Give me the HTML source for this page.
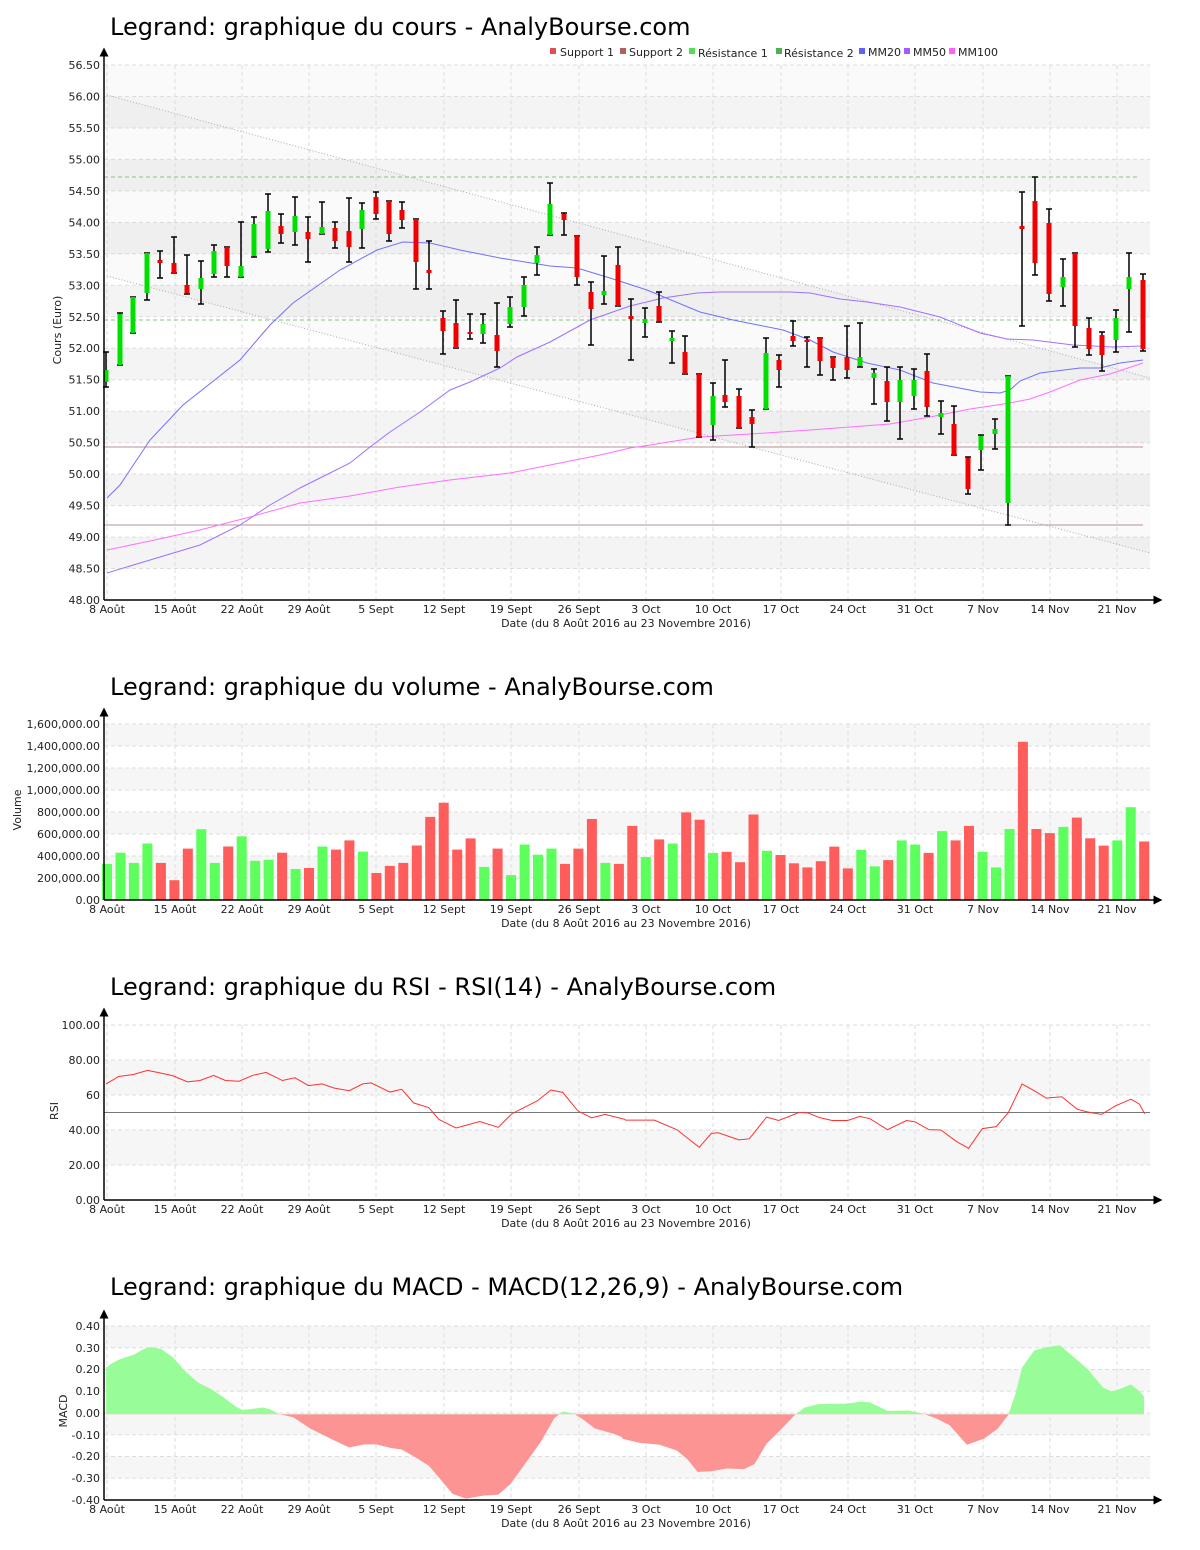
<!DOCTYPE html>
<html><head><meta charset="utf-8"><style>
html,body{margin:0;padding:0;background:#fff;}
svg{display:block;font-family:"DejaVu Sans","Liberation Sans",sans-serif;}
.t{font-size:24px;fill:#000;}
.tk{font-size:11px;fill:#222;}
.g{stroke:#ddd;stroke-dasharray:4,3;stroke-width:1;fill:none;}
.ax{stroke:#000;stroke-width:1.5;fill:none;}
</style></head><body>
<svg width="1200" height="1550" viewBox="0 0 1200 1550" xmlns="http://www.w3.org/2000/svg">
<defs>
<marker id="ar" markerWidth="6" markerHeight="6" refX="3" refY="3" orient="auto"><path d="M0,0 L6,3 L0,6 z" fill="#000"/></marker>
</defs>

<text class="t" x="110" y="35">Legrand: graphique du cours - AnalyBourse.com</text>
<g font-size="11" fill="#222">
<rect x="550" y="48" width="6" height="6" fill="#e05050"/><text x="560" y="56">Support 1</text>
<rect x="620" y="48" width="6" height="6" fill="#b06060"/><text x="629" y="56">Support 2</text>
<rect x="689" y="48" width="6" height="6" fill="#50e050"/><text x="698" y="57">Résistance 1</text>
<rect x="776" y="48" width="6" height="6" fill="#50b050"/><text x="784" y="57">Résistance 2</text>
<rect x="859" y="48" width="6" height="6" fill="#6060ff"/><text x="868" y="56">MM20</text>
<rect x="904" y="48" width="6" height="6" fill="#a060ff"/><text x="913" y="56">MM50</text>
<rect x="949" y="48" width="6" height="6" fill="#ff60ff"/><text x="958" y="56">MM100</text>
</g>
<g fill="#f4f4f4">
<rect x="104" y="537.1" width="1046" height="31.4"/>
<rect x="104" y="474.1" width="1046" height="31.5"/>
<rect x="104" y="411.2" width="1046" height="31.5"/>
<rect x="104" y="348.2" width="1046" height="31.5"/>
<rect x="104" y="285.3" width="1046" height="31.5"/>
<rect x="104" y="222.4" width="1046" height="31.4"/>
<rect x="104" y="159.4" width="1046" height="31.5"/>
<rect x="104" y="96.5" width="1046" height="31.5"/>
</g>
<rect x="104" y="65" width="1046" height="31.5" fill="#fafafa"/>
<g class="g">
<path d="M104 568.5H1150M104 537.1H1150M104 505.6H1150M104 474.1H1150M104 442.7H1150M104 411.2H1150M104 379.7H1150M104 348.2H1150M104 316.8H1150M104 285.3H1150M104 253.8H1150M104 222.4H1150M104 190.9H1150M104 159.4H1150M104 128H1150M104 96.5H1150M104 65H1150"/>
<path d="M107 65V600M175 65V600M242 65V600M309 65V600M376 65V600M444 65V600M511 65V600M579 65V600M646 65V600M713 65V600M781 65V600M848 65V600M915 65V600M983 65V600M1050 65V600M1117 65V600"/>
</g>
<polygon points="107,95 1150,378 1150,553 107,276" fill="rgba(0,0,0,0.02)"/>
<path d="M107 95L1150 378M107 276L1150 553" stroke="#aaa" stroke-width="1" stroke-dasharray="1,2" fill="none"/>
<path d="M104 177H1140M104 320H1140" stroke="#80c880" stroke-width="1" stroke-dasharray="4,3"/>
<path d="M104 447H1143M104 525H1143" stroke="#b89090" stroke-width="1"/>

<polyline fill="none" stroke="#7070ff" stroke-width="1" points="107,498 120,485 150,440 183,405 240,360 270,325 293,303 340,270 377,250 403,242 430,243 460,250 500,258 550,266 577,268 610,278 647,290 700,312 733,320 783,330 810,340 833,352 867,363 900,370 933,383 980,392 1000,393 1010,390 1020,381 1040,373 1080,368 1100,368 1120,363 1143,360"/>
<polyline fill="none" stroke="#a070ff" stroke-width="1" points="107,573 150,560 200,545 240,525 270,505 300,488 320,478 350,463 370,447 390,432 420,412 450,390 470,382 500,368 517,357 550,342 590,320 630,306 663,298 697,293 720,292 790,292 810,293 840,299 867,302 900,307 940,317 980,333 1007,339 1033,340 1073,345 1113,347 1143,346"/>
<polyline fill="none" stroke="#ff70ff" stroke-width="1" points="107,550 150,541 200,530 250,517 300,503 350,496 400,487 450,480 510,473 550,465 600,455 630,448 650,445 700,437 750,434 810,430 850,427 890,424 930,417 970,409 1010,403 1030,399 1050,392 1080,380 1110,374 1143,363"/>

<path fill="none" stroke="#000" stroke-width="1.5" d="M106 352V387M103 352h6M103 387h6M120 313V365M117 313h6M117 365h6M133 297V333M130 297h6M130 333h6M147 253V300M144 253h6M144 300h6M160 251V278M157 251h6M157 278h6M174 237V273M171 237h6M171 273h6M187 255V294M184 255h6M184 294h6M201 261V304M198 261h6M198 304h6M214 245V277M211 245h6M211 277h6M227 247V277M224 247h6M224 277h6M241 222V277M238 222h6M238 277h6M254 217V257M251 217h6M251 257h6M268 194V252M265 194h6M265 252h6M281 214V243M278 214h6M278 243h6M295 197V245M292 197h6M292 245h6M308 217V262M305 217h6M305 262h6M322 202V234M319 202h6M319 234h6M335 222V248M332 222h6M332 248h6M349 198V262M346 198h6M346 262h6M362 203V248M359 203h6M359 248h6M376 192V219M373 192h6M373 219h6M389 201V241M386 201h6M386 241h6M402 202V228M399 202h6M399 228h6M416 219V289M413 219h6M413 289h6M429 241V289M426 241h6M426 289h6M443 311V354M440 311h6M440 354h6M456 300V348M453 300h6M453 348h6M470 314V339M467 314h6M467 339h6M483 314V343M480 314h6M480 343h6M497 303V367M494 303h6M494 367h6M510 297V327M507 297h6M507 327h6M524 277V316M521 277h6M521 316h6M537 247V275M534 247h6M534 275h6M550 183V235M547 183h6M547 235h6M564 213V235M561 213h6M561 235h6M577 236V285M574 236h6M574 285h6M591 282V345M588 282h6M588 345h6M604 256V304M601 256h6M601 304h6M618 247V306M615 247h6M615 306h6M631 299V360M628 299h6M628 360h6M645 308V337M642 308h6M642 337h6M659 292V322M656 292h6M656 322h6M672 331V363M669 331h6M669 363h6M685 336V374M682 336h6M682 374h6M699 374V437M696 374h6M696 437h6M713 383V440M710 383h6M710 440h6M725 360V407M722 360h6M722 407h6M739 389V428M736 389h6M736 428h6M752 410V447M749 410h6M749 447h6M766 338V409M763 338h6M763 409h6M779 355V387M776 355h6M776 387h6M793 321V346M790 321h6M790 346h6M807 337V367M804 337h6M804 367h6M820 338V375M817 338h6M817 375h6M833 357V380M830 357h6M830 380h6M847 326V378M844 326h6M844 378h6M860 323V367M857 323h6M857 367h6M874 369V404M871 369h6M871 404h6M887 367V421M884 367h6M884 421h6M900 367V439M897 367h6M897 439h6M914 369V409M911 369h6M911 409h6M927 354V416M924 354h6M924 416h6M941 401V434M938 401h6M938 434h6M954 406V455M951 406h6M951 455h6M968 457V494M965 457h6M965 494h6M981 435V470M978 435h6M978 470h6M995 419V449M992 419h6M992 449h6M1008 376V525M1005 376h6M1005 525h6M1022 192V326M1019 192h6M1019 326h6M1035 177V275M1032 177h6M1032 275h6M1049 209V301M1046 209h6M1046 301h6M1063 259V306M1060 259h6M1060 306h6M1075 253V347M1072 253h6M1072 347h6M1089 318V355M1086 318h6M1086 355h6M1102 332V371M1099 332h6M1099 371h6M1116 310V352M1113 310h6M1113 352h6M1129 253V332M1126 253h6M1126 332h6M1143 274V351M1140 274h6M1140 351h6"/>
<g fill="#00e000">
<rect x="103.5" y="370" width="5" height="12"/><rect x="117.5" y="314" width="5" height="51"/><rect x="130.5" y="297" width="5" height="36"/><rect x="144.5" y="253" width="5" height="40"/><rect x="198.5" y="278" width="5" height="11"/><rect x="211.5" y="251" width="5" height="23"/><rect x="238.5" y="266" width="5" height="11"/><rect x="251.5" y="224" width="5" height="32"/><rect x="265.5" y="211" width="5" height="38"/><rect x="292.5" y="216" width="5" height="16"/><rect x="319.5" y="227" width="5" height="7"/><rect x="359.5" y="210" width="5" height="19"/><rect x="480.5" y="324" width="5" height="10"/><rect x="507.5" y="307" width="5" height="17"/><rect x="521.5" y="285" width="5" height="22"/><rect x="534.5" y="255" width="5" height="8"/><rect x="547.5" y="204" width="5" height="31"/><rect x="601.5" y="291" width="5" height="4"/><rect x="642.5" y="319" width="5" height="4"/><rect x="669.5" y="338" width="5" height="3"/><rect x="710.5" y="396" width="5" height="29"/><rect x="763.5" y="353" width="5" height="56"/><rect x="857.5" y="357" width="5" height="9"/><rect x="871.5" y="373" width="5" height="5"/><rect x="897.5" y="380" width="5" height="22"/><rect x="911.5" y="380" width="5" height="16"/><rect x="938.5" y="413" width="5" height="4"/><rect x="978.5" y="436" width="5" height="14"/><rect x="992.5" y="429" width="5" height="5"/><rect x="1005.5" y="376" width="5" height="127"/><rect x="1060.5" y="277" width="5" height="10"/><rect x="1113.5" y="318" width="5" height="22"/><rect x="1126.5" y="277" width="5" height="12"/>
</g>
<g fill="#f00000">
<rect x="157.5" y="260" width="5" height="3"/><rect x="171.5" y="263" width="5" height="10"/><rect x="184.5" y="285" width="5" height="8"/><rect x="224.5" y="247" width="5" height="19"/><rect x="278.5" y="226" width="5" height="8"/><rect x="305.5" y="232" width="5" height="7"/><rect x="332.5" y="228" width="5" height="13"/><rect x="346.5" y="231" width="5" height="16"/><rect x="373.5" y="197" width="5" height="17"/><rect x="386.5" y="201" width="5" height="33"/><rect x="399.5" y="210" width="5" height="10"/><rect x="413.5" y="219" width="5" height="43"/><rect x="426.5" y="270" width="5" height="3"/><rect x="440.5" y="318" width="5" height="13"/><rect x="453.5" y="323" width="5" height="25"/><rect x="467.5" y="332" width="5" height="2"/><rect x="494.5" y="335" width="5" height="16"/><rect x="561.5" y="214" width="5" height="6"/><rect x="574.5" y="236" width="5" height="41"/><rect x="588.5" y="292" width="5" height="17"/><rect x="615.5" y="265" width="5" height="41"/><rect x="628.5" y="316" width="5" height="3"/><rect x="656.5" y="306" width="5" height="15"/><rect x="682.5" y="352" width="5" height="22"/><rect x="696.5" y="374" width="5" height="63"/><rect x="722.5" y="395" width="5" height="7"/><rect x="736.5" y="396" width="5" height="32"/><rect x="749.5" y="417" width="5" height="7"/><rect x="776.5" y="360" width="5" height="10"/><rect x="790.5" y="336" width="5" height="5"/><rect x="804.5" y="340" width="5" height="2"/><rect x="817.5" y="338" width="5" height="23"/><rect x="830.5" y="357" width="5" height="11"/><rect x="844.5" y="357" width="5" height="13"/><rect x="884.5" y="381" width="5" height="21"/><rect x="924.5" y="371" width="5" height="36"/><rect x="951.5" y="424" width="5" height="31"/><rect x="965.5" y="458" width="5" height="31"/><rect x="1019.5" y="226" width="5" height="3"/><rect x="1032.5" y="201" width="5" height="62"/><rect x="1046.5" y="223" width="5" height="71"/><rect x="1072.5" y="253" width="5" height="73"/><rect x="1086.5" y="328" width="5" height="21"/><rect x="1099.5" y="335" width="5" height="20"/><rect x="1140.5" y="280" width="5" height="69"/>
</g>
<path class="ax" d="M104 600V52" marker-end="url(#ar)"/>
<path class="ax" d="M104 600H1158" marker-end="url(#ar)"/>
<g class="tk" text-anchor="end">
<text x="100" y="604">48.00</text><text x="100" y="572.5">48.50</text><text x="100" y="541">49.00</text><text x="100" y="509.6">49.50</text><text x="100" y="478">50.00</text><text x="100" y="446.7">50.50</text><text x="100" y="415.2">51.00</text><text x="100" y="383.7">51.50</text><text x="100" y="352.2">52.00</text><text x="100" y="320.8">52.50</text><text x="100" y="289.3">53.00</text><text x="100" y="257.8">53.50</text><text x="100" y="226.4">54.00</text><text x="100" y="194.9">54.50</text><text x="100" y="163.4">55.00</text><text x="100" y="132">55.50</text><text x="100" y="100.5">56.00</text><text x="100" y="69">56.50</text>
</g>
<g class="tk" text-anchor="middle">
<text x="107" y="613">8 Août</text><text x="175" y="613">15 Août</text><text x="242" y="613">22 Août</text><text x="309" y="613">29 Août</text><text x="376" y="613">5 Sept</text><text x="444" y="613">12 Sept</text><text x="511" y="613">19 Sept</text><text x="579" y="613">26 Sept</text><text x="646" y="613">3 Oct</text><text x="713" y="613">10 Oct</text><text x="781" y="613">17 Oct</text><text x="848" y="613">24 Oct</text><text x="915" y="613">31 Oct</text><text x="983" y="613">7 Nov</text><text x="1050" y="613">14 Nov</text><text x="1117" y="613">21 Nov</text>
<text x="626" y="627">Date (du 8 Août 2016 au 23 Novembre 2016)</text>
<text transform="translate(61,330) rotate(-90)">Cours (Euro)</text>
</g>

<text class="t" x="110" y="695">Legrand: graphique du volume - AnalyBourse.com</text>
<g fill="#f6f6f6">
<rect x="104" y="724" width="1046" height="22"/><rect x="104" y="768" width="1046" height="22"/><rect x="104" y="812" width="1046" height="22"/><rect x="104" y="856" width="1046" height="22"/>
</g>
<g class="g">
<path d="M104 878H1150M104 856H1150M104 834H1150M104 812H1150M104 790H1150M104 768H1150M104 746H1150M104 724H1150"/>
<path d="M107 724V900M175 724V900M242 724V900M309 724V900M376 724V900M444 724V900M511 724V900M579 724V900M646 724V900M713 724V900M781 724V900M848 724V900M915 724V900M983 724V900M1050 724V900M1117 724V900"/>
</g>
<g fill="#5cff5c">
<rect x="102" y="863.9" width="10" height="36.1"/><rect x="115.5" y="852.7" width="10" height="47.3"/><rect x="128.9" y="862.9" width="10" height="37.1"/><rect x="142.4" y="843.5" width="10" height="56.5"/><rect x="196.3" y="829.2" width="10" height="70.8"/><rect x="209.8" y="862.9" width="10" height="37.1"/><rect x="236.7" y="836.3" width="10" height="63.7"/><rect x="250.2" y="860.8" width="10" height="39.2"/><rect x="263.6" y="859.8" width="10" height="40.2"/><rect x="290.6" y="869" width="10" height="31"/><rect x="317.5" y="846.5" width="10" height="53.5"/><rect x="357.9" y="851.6" width="10" height="48.4"/><rect x="479.2" y="866.9" width="10" height="33.1"/><rect x="506.1" y="875.1" width="10" height="24.9"/><rect x="519.6" y="844.5" width="10" height="55.5"/><rect x="533" y="854.7" width="10" height="45.3"/><rect x="546.5" y="848.6" width="10" height="51.4"/><rect x="600.4" y="862.9" width="10" height="37.1"/><rect x="640.8" y="857" width="10" height="43"/><rect x="667.7" y="843.5" width="10" height="56.5"/><rect x="708.1" y="852.9" width="10" height="47.1"/><rect x="762" y="850.8" width="10" height="49.2"/><rect x="856.3" y="849.8" width="10" height="50.2"/><rect x="869.8" y="866.4" width="10" height="33.6"/><rect x="896.7" y="840.4" width="10" height="59.6"/><rect x="910.2" y="844.6" width="10" height="55.4"/><rect x="937.1" y="831.1" width="10" height="68.9"/><rect x="977.5" y="851.8" width="10" height="48.2"/><rect x="991" y="867.4" width="10" height="32.6"/><rect x="1004.5" y="829" width="10" height="71"/><rect x="1058.4" y="826.9" width="10" height="73.1"/><rect x="1112.3" y="840.4" width="10" height="59.6"/><rect x="1125.7" y="807.2" width="10" height="92.8"/>
</g>
<g fill="#ff5c5c">
<rect x="155.9" y="862.9" width="10" height="37.1"/><rect x="169.4" y="880.2" width="10" height="19.8"/><rect x="182.8" y="848.6" width="10" height="51.4"/><rect x="223.2" y="846.5" width="10" height="53.5"/><rect x="277.1" y="852.7" width="10" height="47.3"/><rect x="304" y="868" width="10" height="32"/><rect x="331" y="849.6" width="10" height="50.4"/><rect x="344.4" y="840.4" width="10" height="59.6"/><rect x="371.4" y="873" width="10" height="27"/><rect x="384.8" y="865.9" width="10" height="34.1"/><rect x="398.3" y="862.9" width="10" height="37.1"/><rect x="411.8" y="845.5" width="10" height="54.5"/><rect x="425.2" y="816.9" width="10" height="83.1"/><rect x="438.7" y="802.7" width="10" height="97.3"/><rect x="452.2" y="849.6" width="10" height="50.4"/><rect x="465.6" y="838.4" width="10" height="61.6"/><rect x="492.6" y="848.6" width="10" height="51.4"/><rect x="560" y="863.9" width="10" height="36.1"/><rect x="573.4" y="848.6" width="10" height="51.4"/><rect x="586.9" y="819" width="10" height="81"/><rect x="613.9" y="863.9" width="10" height="36.1"/><rect x="627.3" y="825.9" width="10" height="74.1"/><rect x="654.2" y="839.4" width="10" height="60.6"/><rect x="681.2" y="812.4" width="10" height="87.6"/><rect x="694.6" y="819.7" width="10" height="80.3"/><rect x="721.6" y="851.8" width="10" height="48.2"/><rect x="735" y="862.2" width="10" height="37.8"/><rect x="748.5" y="814.5" width="10" height="85.5"/><rect x="775.5" y="855" width="10" height="45"/><rect x="788.9" y="863.3" width="10" height="36.7"/><rect x="802.4" y="867.4" width="10" height="32.6"/><rect x="815.8" y="861.2" width="10" height="38.8"/><rect x="829.3" y="846.6" width="10" height="53.4"/><rect x="842.8" y="868.4" width="10" height="31.6"/><rect x="883.2" y="860.1" width="10" height="39.9"/><rect x="923.6" y="852.9" width="10" height="47.1"/><rect x="950.6" y="840.4" width="10" height="59.6"/><rect x="964" y="825.9" width="10" height="74.1"/><rect x="1017.9" y="741.8" width="10" height="158.2"/><rect x="1031.4" y="829" width="10" height="71"/><rect x="1044.8" y="833.1" width="10" height="66.9"/><rect x="1071.8" y="817.6" width="10" height="82.4"/><rect x="1085.2" y="838.3" width="10" height="61.7"/><rect x="1098.7" y="845.6" width="10" height="54.4"/><rect x="1139.2" y="841.5" width="10" height="58.5"/>
</g>
<path class="ax" d="M104 900V712" marker-end="url(#ar)"/>
<path class="ax" d="M104 900H1158" marker-end="url(#ar)"/>
<g class="tk" text-anchor="end">
<text x="100" y="904">0.00</text><text x="100" y="882">200,000.00</text><text x="100" y="860">400,000.00</text><text x="100" y="838">600,000.00</text><text x="100" y="816">800,000.00</text><text x="100" y="794">1,000,000.00</text><text x="100" y="772">1,200,000.00</text><text x="100" y="750">1,400,000.00</text><text x="100" y="728">1,600,000.00</text>
</g>
<g class="tk" text-anchor="middle">
<text x="107" y="913">8 Août</text><text x="175" y="913">15 Août</text><text x="242" y="913">22 Août</text><text x="309" y="913">29 Août</text><text x="376" y="913">5 Sept</text><text x="444" y="913">12 Sept</text><text x="511" y="913">19 Sept</text><text x="579" y="913">26 Sept</text><text x="646" y="913">3 Oct</text><text x="713" y="913">10 Oct</text><text x="781" y="913">17 Oct</text><text x="848" y="913">24 Oct</text><text x="915" y="913">31 Oct</text><text x="983" y="913">7 Nov</text><text x="1050" y="913">14 Nov</text><text x="1117" y="913">21 Nov</text>
<text x="626" y="927">Date (du 8 Août 2016 au 23 Novembre 2016)</text>
<text transform="translate(21,810) rotate(-90)">Volume</text>
</g>

<text class="t" x="110" y="995">Legrand: graphique du RSI - RSI(14) - AnalyBourse.com</text>
<g fill="#f6f6f6">
<rect x="104" y="1060" width="1046" height="35"/><rect x="104" y="1130" width="1046" height="35"/>
</g>
<g class="g">
<path d="M104 1165H1150M104 1130H1150M104 1095H1150M104 1060H1150M104 1025H1150"/>
<path d="M107 1025V1200M175 1025V1200M242 1025V1200M309 1025V1200M376 1025V1200M444 1025V1200M511 1025V1200M579 1025V1200M646 1025V1200M713 1025V1200M781 1025V1200M848 1025V1200M915 1025V1200M983 1025V1200M1050 1025V1200M1117 1025V1200"/>
</g>
<path d="M104 1112.5H1150" stroke="#777" stroke-width="1"/>
<g transform="translate(100,1050) scale(0.339)">
<polyline fill="none" stroke="#ff3030" stroke-width="1" vector-effect="non-scaling-stroke" points="18,100 55,78 100,72 140,60 175,67 215,76 258,94 295,90 335,75 370,90 410,92 450,75 490,66 538,90 575,82 615,105 655,100 690,112 735,120 775,100 800,97 855,124 890,116 925,156 970,170 1000,205 1050,230 1080,222 1120,211 1175,228 1215,188 1290,150 1330,118 1365,125 1410,180 1450,200 1490,190 1550,205"/>
</g>
<g transform="translate(625,1050) scale(0.3453,0.339)">
<polyline fill="none" stroke="#ff3030" stroke-width="1" vector-effect="non-scaling-stroke" points="0,207 85,207 150,235 215,287 250,246 270,244 330,265 360,262 410,198 445,208 505,184 530,186 565,200 600,208 645,208 680,196 710,203 760,235 815,208 840,212 880,235 915,236 960,270 995,290 1035,232 1075,226 1110,185 1150,100 1185,120 1220,142 1265,138 1310,175 1345,184 1380,190 1420,165 1465,145 1490,160 1505,188"/>
</g>
<path class="ax" d="M104 1200V1012" marker-end="url(#ar)"/>
<path class="ax" d="M104 1200H1158" marker-end="url(#ar)"/>
<g class="tk" text-anchor="end">
<text x="100" y="1204">0.00</text><text x="100" y="1169">20.00</text><text x="100" y="1134">40.00</text><text x="100" y="1099">60</text><text x="100" y="1064">80.00</text><text x="100" y="1029">100.00</text>
</g>
<g class="tk" text-anchor="middle">
<text x="107" y="1213">8 Août</text><text x="175" y="1213">15 Août</text><text x="242" y="1213">22 Août</text><text x="309" y="1213">29 Août</text><text x="376" y="1213">5 Sept</text><text x="444" y="1213">12 Sept</text><text x="511" y="1213">19 Sept</text><text x="579" y="1213">26 Sept</text><text x="646" y="1213">3 Oct</text><text x="713" y="1213">10 Oct</text><text x="781" y="1213">17 Oct</text><text x="848" y="1213">24 Oct</text><text x="915" y="1213">31 Oct</text><text x="983" y="1213">7 Nov</text><text x="1050" y="1213">14 Nov</text><text x="1117" y="1213">21 Nov</text>
<text x="626" y="1227">Date (du 8 Août 2016 au 23 Novembre 2016)</text>
<text transform="translate(58,1111) rotate(-90)">RSI</text>
</g>

<text class="t" x="110" y="1295">Legrand: graphique du MACD - MACD(12,26,9) - AnalyBourse.com</text>
<g fill="#f6f6f6">
<rect x="104" y="1326" width="1046" height="21.75"/><rect x="104" y="1369.5" width="1046" height="21.75"/><rect x="104" y="1413" width="1046" height="21.75"/><rect x="104" y="1456.5" width="1046" height="21.75"/>
</g>
<g class="g">
<path d="M104 1478.25H1150M104 1456.5H1150M104 1434.75H1150M104 1413H1150M104 1391.25H1150M104 1369.5H1150M104 1347.75H1150M104 1326H1150"/>
<path d="M107 1326V1500M175 1326V1500M242 1326V1500M309 1326V1500M376 1326V1500M444 1326V1500M511 1326V1500M579 1326V1500M646 1326V1500M713 1326V1500M781 1326V1500M848 1326V1500M915 1326V1500M983 1326V1500M1050 1326V1500M1117 1326V1500"/>
</g>
<defs>
<clipPath id="c1a"><rect x="-20" y="0" width="1620" height="278"/></clipPath>
<clipPath id="c1b"><rect x="-20" y="278" width="1620" height="400"/></clipPath>
</defs>
<g transform="translate(100,1320) scale(0.339)">
<polygon clip-path="url(#c1a)" fill="#98fc98" points="18,278 18,140 40,125 60,115 100,102 130,85 150,80 180,85 215,110 250,150 290,185 330,205 360,225 400,255 420,265 450,262 480,258 500,263 530,278 570,287 620,320 680,350 735,376 780,367 815,367 860,378 890,382 930,405 970,430 1000,465 1040,513 1080,527 1130,518 1175,515 1210,485 1250,430 1300,360 1340,290 1365,270 1395,275 1420,290 1460,320 1520,337 1545,348 1545,278"/>
<polygon clip-path="url(#c1b)" fill="#fc9494" points="18,278 18,140 40,125 60,115 100,102 130,85 150,80 180,85 215,110 250,150 290,185 330,205 360,225 400,255 420,265 450,262 480,258 500,263 530,278 570,287 620,320 680,350 735,376 780,367 815,367 860,378 890,382 930,405 970,430 1000,465 1040,513 1080,527 1130,518 1175,515 1210,485 1250,430 1300,360 1340,290 1365,270 1395,275 1420,290 1460,320 1520,337 1545,348 1545,278"/>
</g>
<g transform="translate(625,1320) scale(0.3453,0.339)">
<polygon clip-path="url(#c1a)" fill="#98fc98" points="-8,278 -8,350 0,352 40,362 100,368 150,385 180,410 210,448 250,446 295,438 345,440 375,425 410,365 450,325 490,282 520,258 560,248 600,247 640,247 680,241 710,243 760,268 820,267 860,275 900,290 940,310 990,368 1040,350 1080,320 1110,280 1130,220 1150,140 1185,90 1220,80 1260,75 1300,110 1340,145 1385,200 1410,210 1430,205 1465,190 1490,210 1503,225 1503,278"/>
<polygon clip-path="url(#c1b)" fill="#fc9494" points="-8,278 -8,350 0,352 40,362 100,368 150,385 180,410 210,448 250,446 295,438 345,440 375,425 410,365 450,325 490,282 520,258 560,248 600,247 640,247 680,241 710,243 760,268 820,267 860,275 900,290 940,310 990,368 1040,350 1080,320 1110,280 1130,220 1150,140 1185,90 1220,80 1260,75 1300,110 1340,145 1385,200 1410,210 1430,205 1465,190 1490,210 1503,225 1503,278"/>
</g>
<path class="ax" d="M104 1500V1314" marker-end="url(#ar)"/>
<path class="ax" d="M104 1500H1158" marker-end="url(#ar)"/>
<g class="tk" text-anchor="end">
<text x="100" y="1504">-0.40</text><text x="100" y="1482">-0.30</text><text x="100" y="1460">-0.20</text><text x="100" y="1439">-0.10</text><text x="100" y="1417">0.00</text><text x="100" y="1395">0.10</text><text x="100" y="1373">0.20</text><text x="100" y="1352">0.30</text><text x="100" y="1330">0.40</text>
</g>
<g class="tk" text-anchor="middle">
<text x="107" y="1513">8 Août</text><text x="175" y="1513">15 Août</text><text x="242" y="1513">22 Août</text><text x="309" y="1513">29 Août</text><text x="376" y="1513">5 Sept</text><text x="444" y="1513">12 Sept</text><text x="511" y="1513">19 Sept</text><text x="579" y="1513">26 Sept</text><text x="646" y="1513">3 Oct</text><text x="713" y="1513">10 Oct</text><text x="781" y="1513">17 Oct</text><text x="848" y="1513">24 Oct</text><text x="915" y="1513">31 Oct</text><text x="983" y="1513">7 Nov</text><text x="1050" y="1513">14 Nov</text><text x="1117" y="1513">21 Nov</text>
<text x="626" y="1527">Date (du 8 Août 2016 au 23 Novembre 2016)</text>
<text transform="translate(67,1411) rotate(-90)">MACD</text>
</g>
</svg>
</body></html>
